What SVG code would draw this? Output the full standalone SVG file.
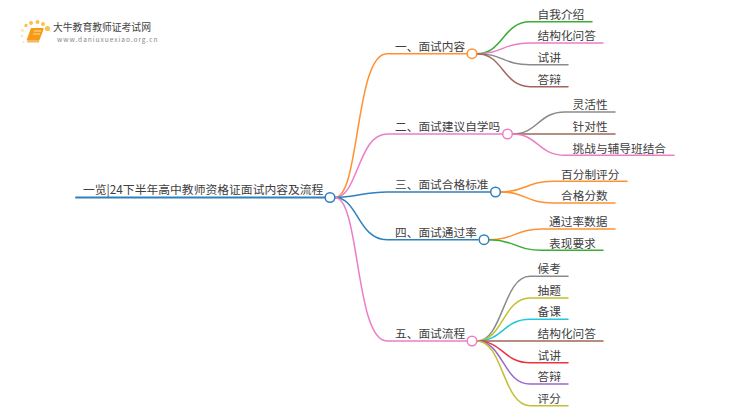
<svg xmlns="http://www.w3.org/2000/svg" width="750" height="410" viewBox="0 0 750 410">
<style>
text{font-family:"Noto Sans CJK SC","Noto Sans",sans-serif;font-size:11.7px;fill:#404040}
.c path{fill:none;stroke-width:1.5;stroke-linecap:round}
circle{fill:#fff;stroke-width:1.5}
.d{fill:#fbc14a;stroke:none}
.e{fill:#fde3a8;stroke:none}
.or{stroke:#ff9130}.pk{stroke:#ec7ec8}.bl{stroke:#2f80bd}.gn{stroke:#3aad35}.gy{stroke:#8a8a8a}.br{stroke:#a0675c}.ol{stroke:#c2bf30}.cy{stroke:#22c7d8}.rd{stroke:#e8343a}.pu{stroke:#9a66cc}
</style>
<rect width="750" height="410" fill="#fff"/>
<g id="logo">
<circle class="d" cx="47.500" cy="28.500" r="2.600"/><circle class="d" cx="43" cy="24" r="2"/><circle class="d" cx="37.500" cy="22" r="2"/><circle class="d" cx="31" cy="23" r="2"/><circle class="d" cx="26" cy="25.500" r="1.700"/><circle class="e" cx="22.500" cy="30.500" r="1.400"/><circle class="e" cx="22" cy="36" r="1.200"/><circle class="e" cx="23.500" cy="42" r="1"/>
<path d="M31 28H43Q44 28 43.500 29.500L39.500 40H29L26.500 40.500Z" fill="#f79a16"/><path d="M27 41Q28 39.500 30 40H39.500L39 42.500H29Q26.500 43 27 41Z" fill="#f4b860"/><path d="M34 31H41M33 34H40" stroke="#fde0a0" stroke-width="1" fill="none"/>
<text x="53" y="31" style="font-size:9.800px;fill:#444">大牛教育教师证考试网</text>
<text x="57" y="42" style="font-size:6.600px;letter-spacing:.95px;fill:#888">www.daniuxuexiao.org.cn</text>
</g>
<g id="connectors" class="c">
<path class="bl" d="M76 197.500H325" style="stroke-width:2"/>
<path class="or" d="M335 197.500C360 197.500 355 53.700 387 53.700H467"/>
<path class="pk" d="M335 197.500C358 197.500 358 134 387 134H502"/>
<path class="bl" d="M335 197.500C355 197.500 365 192 387 192H490"/>
<path class="bl" d="M335 197.500C358 197.500 358 239.700 387 239.700H478"/>
<path class="pk" d="M335 197.500C360 197.500 355 341 387 341H467"/>
<path class="gn" d="M477 53.700C503 53.700 503 21.700 530 21.700H592"/>
<path class="pk" d="M477 53.700C503 53.700 503 43 530 43H603"/>
<path class="gy" d="M477 53.700C503 53.700 503 64.700 530 64.700H568"/>
<path class="br" d="M477 53.700C503 53.700 503 86.700 530 86.700H568"/>
<path class="gy" d="M512.500 134C538 134 538 112 565 112H615"/>
<path class="br" d="M512.500 134H615"/>
<path class="pk" d="M512.500 134C538 134 538 155.300 565 155.300H674"/>
<path class="or" d="M500.500 192C526 192 526 181.300 553 181.300H627"/>
<path class="or" d="M500.500 192C526 192 526 203 553 203H615"/>
<path class="or" d="M489 239.700C515 239.700 515 229 542 229H615"/>
<path class="gn" d="M489 239.700C515 239.700 515 250.300 542 250.300H603"/>
<path class="gy" d="M477 341C503 341 503 276.300 530 276.300H568"/>
<path class="ol" d="M477 341C503 341 503 298 530 298H568"/>
<path class="cy" d="M477 341C503 341 503 319.300 530 319.300H568"/>
<path class="br" d="M477 341H603"/>
<path class="rd" d="M477 341C503 341 503 362.700 530 362.700H568"/>
<path class="pu" d="M477 341C503 341 503 384 530 384H568"/>
<path class="ol" d="M477 341C503 341 503 405.700 530 405.700H568"/>
</g>
<g id="root"><text x="83" y="194" style="font-size:11.800px">一览|24下半年高中教师资格证面试内容及流程</text><circle class="bl" cx="330" cy="197.500" r="4.800"/></g>
<g id="n1"><text x="395" y="51">一、面试内容</text><circle class="or" cx="472" cy="53.700" r="4.800"/></g>
<g id="n1a"><text x="537.500" y="19">自我介绍</text></g>
<g id="n1b"><text x="537.500" y="40.300">结构化问答</text></g>
<g id="n1c"><text x="537.500" y="62">试讲</text></g>
<g id="n1d"><text x="537.500" y="84">答辩</text></g>
<g id="n2"><text x="395" y="131">二、面试建议自学吗</text><circle class="pk" cx="507.500" cy="134" r="4.800"/></g>
<g id="n2a"><text x="572.500" y="109.300">灵活性</text></g>
<g id="n2b"><text x="572.500" y="131">针对性</text></g>
<g id="n2c"><text x="572.500" y="152.600">挑战与辅导班结合</text></g>
<g id="n3"><text x="395" y="189">三、面试合格标准</text><circle class="bl" cx="495.500" cy="192" r="4.800"/></g>
<g id="n3a"><text x="561" y="178.600">百分制评分</text></g>
<g id="n3b"><text x="561" y="200.300">合格分数</text></g>
<g id="n4"><text x="395" y="237">四、面试通过率</text><circle class="bl" cx="484" cy="239.700" r="4.800"/></g>
<g id="n4a"><text x="549" y="226.300">通过率数据</text></g>
<g id="n4b"><text x="549" y="247.600">表现要求</text></g>
<g id="n5"><text x="395" y="338">五、面试流程</text><circle class="pk" cx="472" cy="341" r="4.800"/></g>
<g id="n5a"><text x="537.500" y="272.500">候考</text></g>
<g id="n5b"><text x="537.500" y="294.500">抽题</text></g>
<g id="n5c"><text x="537.500" y="316">备课</text></g>
<g id="n5d"><text x="537.500" y="338.300">结构化问答</text></g>
<g id="n5e"><text x="537.500" y="360">试讲</text></g>
<g id="n5f"><text x="537.500" y="381.300">答辩</text></g>
<g id="n5g"><text x="537.500" y="403">评分</text></g>
</svg>
